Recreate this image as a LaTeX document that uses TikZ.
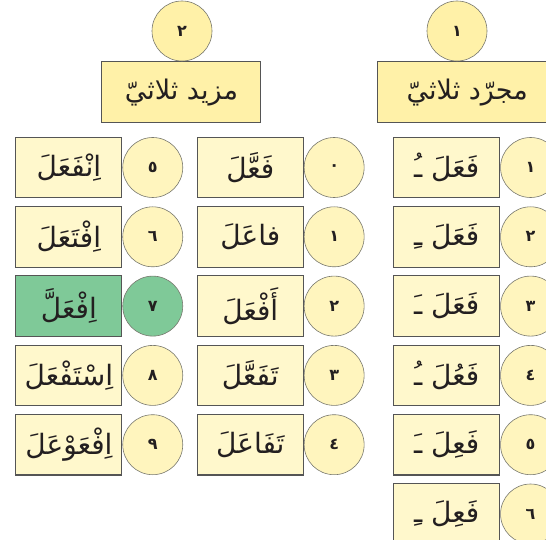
\documentclass[tikz,border=0pt]{standalone}
\usepackage{fontspec}
\usepackage{tikz}
\usetikzlibrary{positioning}
\TeXXeTstate=1
\newfontfamily\arabicfont[Script=Arabic]{DejaVu Sans}
\definecolor{HeadYellow}{RGB}{255, 241, 168}
\definecolor{RowYellow}{RGB}{255, 248, 204}
\definecolor{RingYellow}{RGB}{255, 245, 190}
\definecolor{MintGreen}{RGB}{127, 201, 152}
\definecolor{EdgeGray}{RGB}{85, 85, 85}
\definecolor{RingGray}{RGB}{120, 120, 110}
\definecolor{InkBlack}{RGB}{35, 31, 32}
\tikzset{
  head/.style={rectangle, minimum width=159pt, minimum height=61pt,
    draw=EdgeGray, line width=1.1pt, fill=HeadYellow, text=InkBlack,
    font=\arabicfont\fontsize{27}{30}\selectfont},
  topnum/.style={circle, minimum size=60pt, inner sep=0pt, draw=RingGray,
    line width=0.6pt, fill=HeadYellow, text=InkBlack,
    font=\arabicfont\bfseries\fontsize{16}{19}\selectfont},
  form/.style={rectangle, minimum width=106pt, minimum height=60.5pt,
    draw=EdgeGray, line width=1.1pt, fill=RowYellow, text=InkBlack,
    font=\arabicfont\fontsize{28}{32}\selectfont},
  num/.style={circle, minimum size=60pt, inner sep=0pt, draw=RingGray,
    line width=0.6pt, fill=RingYellow, text=InkBlack,
    font=\arabicfont\bfseries\fontsize{16}{19}\selectfont},
  hl/.style={fill=MintGreen},
}

\begin{document}
\begin{tikzpicture}[x=1pt, y=1pt]
  \useasboundingbox (0,0) rectangle (546,539);
  \clip (0,0) rectangle (546,539);
  % headings
  \node[head] (hL) at (181.4,446.8) {\beginR مزيد ثلاثيّ\endR};
  \node[head, anchor=west, minimum width=180pt] (hR) at (376.7,446.8)
    {\beginR مجرّد ثلاثيّ\endR\hspace{21pt}};
  \node[topnum] (t2) at (182,508) {\beginR ٢\endR};
  \node[topnum] (t1) at (457,508) {\beginR ١\endR};
  % mujarrad
  \node[form] (r1) at (446.7,371.5) {\beginR فَعَلَ ـُ\endR};
  \node[form, below=7.7pt of r1] (r2) {\beginR فَعَلَ ـِ\endR};
  \node[form, below=7.7pt of r2] (r3) {\beginR فَعَلَ ـَ\endR};
  \node[form, below=7.7pt of r3] (r4) {\beginR فَعُلَ ـُ\endR};
  \node[form, below=7.7pt of r4] (r5) {\beginR فَعِلَ ـَ\endR};
  \node[form, below=7.7pt of r5] (r6) {\beginR فَعِلَ ـِ\endR};
  \node[num, right=0pt of r1] (n1) {\beginR ١\endR};
  \node[num, right=0pt of r2] (n2) {\beginR ٢\endR};
  \node[num, right=0pt of r3] (n3) {\beginR ٣\endR};
  \node[num, right=0pt of r4] (n4) {\beginR ٤\endR};
  \node[num, right=0pt of r5] (n5) {\beginR ٥\endR};
  \node[num, right=0pt of r6] (n6) {\beginR ٦\endR};
  % mazid, first column
  \node[form] (m0) at (250.3,371.5) {\beginR فَعَّلَ\endR};
  \node[form, below=7.7pt of m0] (m1) {\beginR فاعَلَ\endR};
  \node[form, below=7.7pt of m1] (m2) {\beginR أَفْعَلَ\endR};
  \node[form, below=7.7pt of m2] (m3) {\beginR تَفَعَّلَ\endR};
  \node[form, below=7.7pt of m3] (m4) {\beginR تَفَاعَلَ\endR};
  \node[num, right=0pt of m0] (k0) {\beginR ٠\endR};
  \node[num, right=0pt of m1] (k1) {\beginR ١\endR};
  \node[num, right=0pt of m2] (k2) {\beginR ٢\endR};
  \node[num, right=0pt of m3] (k3) {\beginR ٣\endR};
  \node[num, right=0pt of m4] (k4) {\beginR ٤\endR};
  % mazid, second column
  \node[form] (m5) at (68.9,371.5) {\beginR اِنْفَعَلَ\endR};
  \node[form, below=7.7pt of m5] (m6) {\beginR اِفْتَعَلَ\endR};
  \node[form, hl, below=7.7pt of m6] (m7) {\beginR اِفْعَلَّ\endR};
  \node[form, below=7.7pt of m7] (m8) {\beginR اِسْتَفْعَلَ\endR};
  \node[form, below=7.7pt of m8] (m9) {\beginR اِفْعَوْعَلَ\endR};
  \node[num, right=0pt of m5] (k5) {\beginR ٥\endR};
  \node[num, right=0pt of m6] (k6) {\beginR ٦\endR};
  \node[num, hl, right=0pt of m7] (k7) {\beginR ٧\endR};
  \node[num, right=0pt of m8] (k8) {\beginR ٨\endR};
  \node[num, right=0pt of m9] (k9) {\beginR ٩\endR};
\end{tikzpicture}
\end{document}
